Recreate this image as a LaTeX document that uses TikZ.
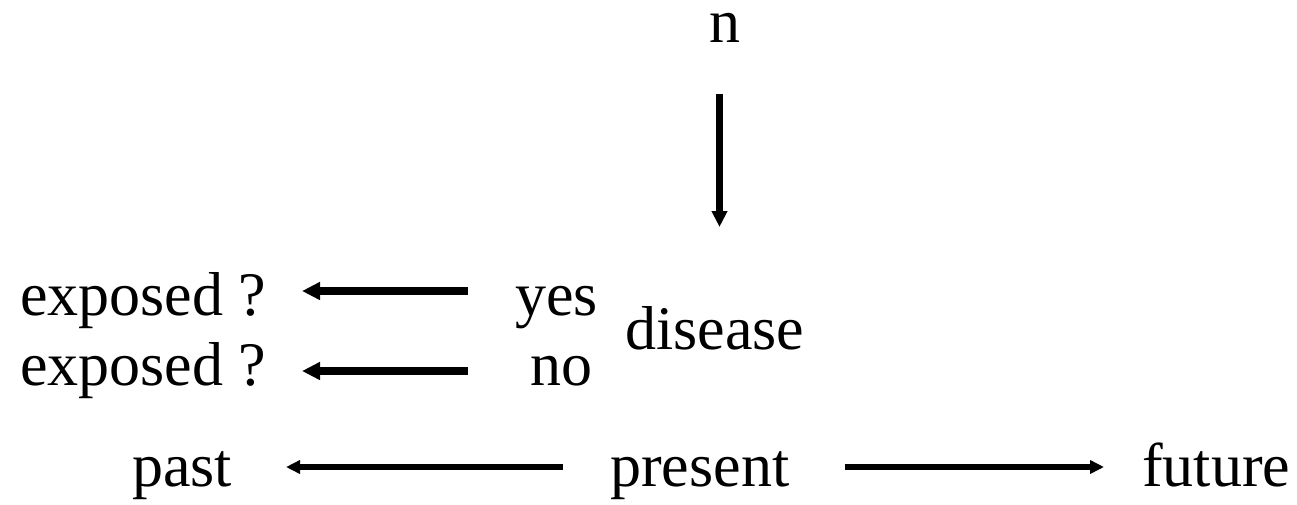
\documentclass[tikz,border=0pt]{standalone}
\usepackage{fontspec}
\setmainfont{Liberation Serif}
\usetikzlibrary{arrows.meta}
\begin{document}
\begin{tikzpicture}[x=1pt,y=-1pt,
  lbl/.style={anchor=base west,inner sep=0pt,font=\fontsize{62}{74}\selectfont},
  heavy/.style={line width=8.5pt,-{Triangle[length=18pt,width=17pt]}},
  down/.style={line width=7pt,-{Triangle[length=16pt,width=15pt]}},
  thin/.style={line width=6pt,-{Triangle[length=14pt,width=13pt]}}]
\useasboundingbox (0,0) rectangle (1297,504);
% labels
\node[lbl] (n)    at (709,42)  {n};
\node[lbl] (exp1) at (20,315)  {exposed ?};
\node[lbl] (exp2) at (20,385)  {exposed ?};
\node[lbl] (yes)  at (515,315) {yes};
\node[lbl] (no)   at (530,385) {no};
\node[lbl] (dis)  at (625,349) {disease};
\node[lbl] (past) at (132,486) {past};
\node[lbl] (pres) at (610,486) {present};
\node[lbl] (fut)  at (1142,486) {future};
% arrow end points
\coordinate (nA) at (719.5,94);
\coordinate (nB) at (719.5,227);
\coordinate (y1) at (468,291);
\coordinate (y2) at (302,291);
\coordinate (o1) at (468,371);
\coordinate (o2) at (302,371);
\coordinate (p1) at (563,467);
\coordinate (p2) at (286,467);
\coordinate (f1) at (845,467);
\coordinate (f2) at (1104,467);
% arrows
\draw[down]  (nA) -- (nB);
\draw[heavy] (y1) -- (y2);
\draw[heavy] (o1) -- (o2);
\draw[thin]  (p1) -- (p2);
\draw[thin]  (f1) -- (f2);
\end{tikzpicture}
\end{document}
